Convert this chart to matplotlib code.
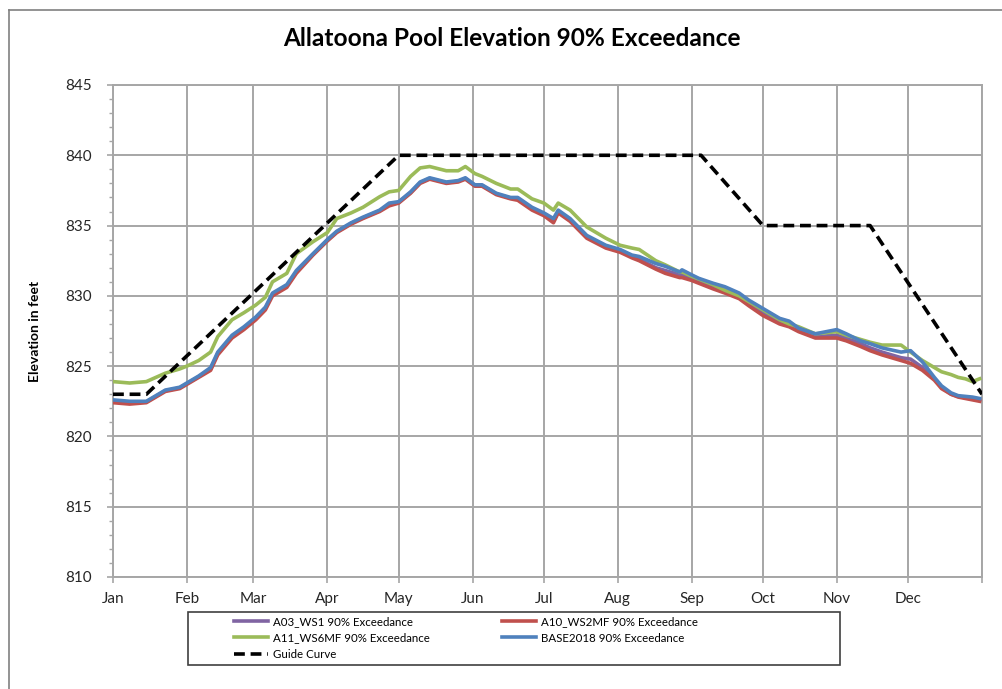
import matplotlib
matplotlib.use("Agg")
import matplotlib.pyplot as plt
from matplotlib.lines import Line2D
from matplotlib.patches import Rectangle
from matplotlib.ticker import MultipleLocator

plt.rcParams['font.family'] = ['Lato', 'DejaVu Sans']

days = [0, 7, 14, 22, 28, 31, 36, 41, 44, 50, 55, 60, 64, 67, 73, 77, 84, 90, 94, 100,
        105, 112, 116, 120, 125, 129, 133, 140, 145, 148, 152, 155, 161, 167, 170, 176,
        181, 185, 187, 192, 199, 207, 213, 218, 221, 228, 232, 238, 239, 243, 246, 252,
        257, 263, 267, 273, 280, 284, 288, 295, 304, 308, 314, 318, 323, 331, 335, 340,
        345, 348, 352, 355, 358, 361, 364]

a11 = [823.9, 823.8, 823.9, 824.5, 824.8, 825.0, 825.4, 826.0, 827.1, 828.3, 828.8, 829.35,
       829.9, 831.0, 831.6, 833.0, 833.85, 834.5, 835.5, 835.9, 836.3, 837.05, 837.4, 837.5,
       838.5, 839.1, 839.2, 838.9, 838.9, 839.2, 838.7, 838.5, 838.0, 837.6, 837.6, 836.9,
       836.6, 836.1, 836.6, 836.1, 834.9, 834.1, 833.6, 833.4, 833.3, 832.5, 832.2, 831.7,
       831.7, 831.4, 831.2, 830.8, 830.4, 830.0, 829.6, 829.0, 828.3, 828.0, 827.8, 827.3,
       827.45, 827.2, 826.9, 826.7, 826.5, 826.5, 826.0, 825.4, 824.9, 824.6, 824.4, 824.2,
       824.1, 823.9, 824.1]

base2018 = [822.6, 822.5, 822.5, 823.3, 823.5, 823.8, 824.3, 824.9, 826.0, 827.2, 827.8, 828.5,
            829.2, 830.2, 830.8, 831.8, 833.0, 834.0, 834.6, 835.2, 835.6, 836.1, 836.6, 836.7,
            837.4, 838.1, 838.4, 838.1, 838.2, 838.4, 837.9, 837.9, 837.3, 837.0, 837.0, 836.3,
            835.9, 835.5, 836.1, 835.5, 834.3, 833.6, 833.3, 832.9, 832.8, 832.3, 832.1, 831.7,
            831.85, 831.5, 831.25, 830.9, 830.65, 830.2, 829.7, 829.1, 828.4, 828.2, 827.7, 827.3,
            827.6, 827.3, 826.8, 826.6, 826.3, 826.0, 826.1, 825.3, 824.2, 823.6, 823.1, 822.9,
            822.85, 822.8, 822.7]

a10 = [822.4, 822.3, 822.4, 823.2, 823.4, 823.7, 824.2, 824.7, 825.8, 827.0, 827.6, 828.3,
       829.0, 830.0, 830.6, 831.6, 832.9, 833.9, 834.5, 835.1, 835.5, 836.0, 836.4, 836.6,
       837.3, 838.0, 838.3, 838.0, 838.1, 838.3, 837.8, 837.8, 837.2, 836.9, 836.8, 836.1,
       835.7, 835.2, 835.9, 835.3, 834.1, 833.4, 833.1, 832.7, 832.5, 831.9, 831.6, 831.3,
       831.3, 831.1, 830.9, 830.5, 830.2, 829.8, 829.3, 828.6, 828.0, 827.8, 827.45, 827.0,
       827.0, 826.8, 826.4, 826.1, 825.8, 825.4, 825.2, 824.7, 824.0, 823.4, 823.0, 822.8,
       822.7, 822.6, 822.5]

a03 = [822.5, 822.4, 822.45, 823.25, 823.45, 823.75, 824.25, 824.8, 825.9, 827.1, 827.7, 828.4,
       829.1, 830.1, 830.7, 831.7, 832.95, 833.95, 834.55, 835.15, 835.55, 836.05, 836.5, 836.65,
       837.35, 838.05, 838.35, 838.05, 838.15, 838.35, 837.85, 837.85, 837.25, 836.95, 836.9, 836.2,
       835.8, 835.35, 836.0, 835.4, 834.2, 833.5, 833.2, 832.8, 832.6, 832.0, 831.8, 831.5,
       831.5, 831.3, 831.0, 830.7, 830.4, 830.0, 829.5, 828.8, 828.2, 828.0, 827.6, 827.1,
       827.2, 827.0, 826.6, 826.3, 826.0, 825.6, 825.5, 824.9, 824.1, 823.5, 823.0, 822.85,
       822.75, 822.7, 822.6]

guide_days = [0, 14, 120, 247, 273, 318, 365]
guide_vals = [823, 823, 840, 840, 835, 835, 823]

month_starts = [0, 31, 59, 90, 120, 151, 181, 212, 243, 273, 304, 334, 365]
month_labels = ['Jan', 'Feb', 'Mar', 'Apr', 'May', 'Jun', 'Jul', 'Aug', 'Sep', 'Oct', 'Nov', 'Dec', '']

fig = plt.figure(figsize=(10.03, 6.89), dpi=100)
ax = fig.add_axes([113/1003, 1-577/689, (982-113)/1003, (577-85)/689])

grid_c = '#a6a6a6'
l_a03, = ax.plot(days, a03, color='#8064A2', lw=2.6, label='A03_WS1 90% Exceedance', zorder=3)
l_a10, = ax.plot(days, a10, color='#C0504D', lw=2.6, label='A10_WS2MF 90% Exceedance', zorder=3)
l_a11, = ax.plot(days, a11, color='#9BBB59', lw=2.6, label='A11_WS6MF 90% Exceedance', zorder=3)
l_base, = ax.plot(days, base2018, color='#4F81BD', lw=2.6, label='BASE2018 90% Exceedance', zorder=3)
l_guide, = ax.plot(guide_days, guide_vals, color='black', lw=2.6, ls=(0, (3, 1.6)), label='Guide Curve', zorder=4)

ax.set_xlim(0, 365)
ax.set_ylim(810, 845)
ax.set_xticks(month_starts)
ax.set_xticklabels(month_labels)
ax.yaxis.set_major_locator(MultipleLocator(5))
ax.yaxis.set_minor_locator(MultipleLocator(1))
ax.grid(True, which='major', color=grid_c, lw=1.4, zorder=1)
for s in ax.spines.values():
    s.set_color(grid_c)
    s.set_linewidth(1.4)
ax.tick_params(axis='both', which='major', color=grid_c, width=1.2, length=4, labelsize=11, labelcolor='#262626')
ax.tick_params(axis='y', which='minor', color=grid_c, width=1.0, length=3)
ax.tick_params(axis='x', pad=7)
ax.tick_params(axis='y', pad=11)

ax.set_ylabel('Elevation in feet', fontsize=10, fontweight='bold', labelpad=18)
fig.text(512/1003, 1-38/689, 'Allatoona Pool Elevation 90% Exceedance', ha='center', va='center',
         fontsize=17.6, fontweight='bold')

handles = [l_a03, l_a11, l_guide, l_a10, l_base]
leg = fig.legend(handles, [h.get_label() for h in handles], ncol=2, frameon=False,
                 loc='center left', bbox_to_anchor=(224/1003, 1-638/689), fontsize=8.3,
                 handlelength=2.9, handletextpad=0.45, columnspacing=6.3, labelspacing=0.45,
                 borderpad=0.4)

fig.add_artist(Rectangle((188/1003, 1-665/689), (840-188)/1003, (665-612)/689,
                         transform=fig.transFigure, fill=False, edgecolor='#404040', lw=1.2))
# outer chart border (extends beyond image right/bottom)
fig.add_artist(Line2D([9/1003, 9/1003], [-0.01, 1-10/689], transform=fig.transFigure, color='#808080', lw=1.2))
fig.add_artist(Line2D([9/1003, 1.01], [1-10/689, 1-10/689], transform=fig.transFigure, color='#808080', lw=1.2))

fig.savefig('out.png', dpi=100)
